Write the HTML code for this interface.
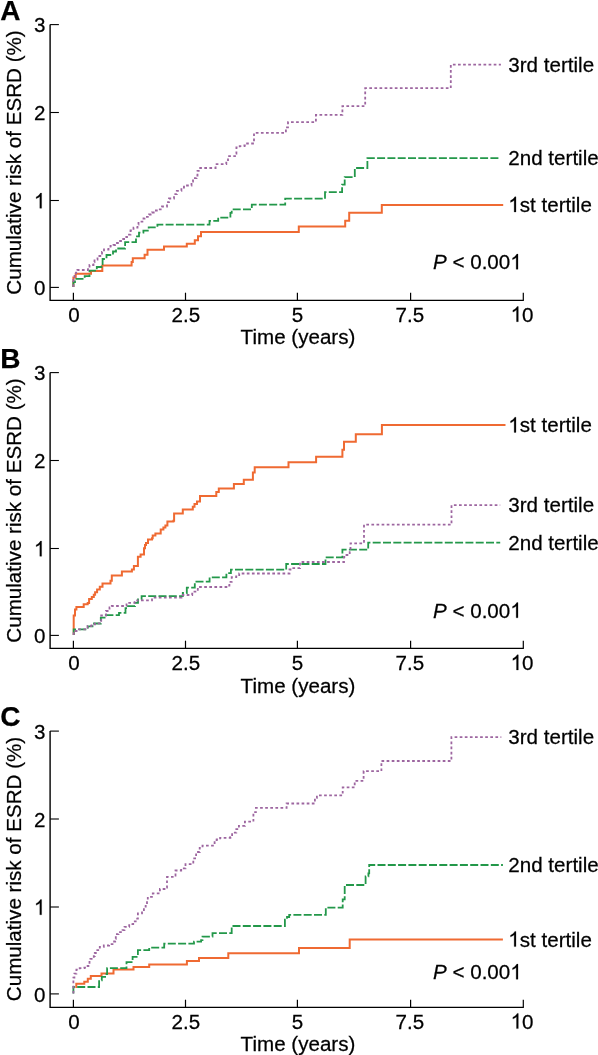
<!DOCTYPE html>
<html><head><meta charset="utf-8"><style>
html,body{margin:0;padding:0;background:#fff;width:598px;height:1055px;overflow:hidden}
svg{display:block;will-change:transform;font-family:"Liberation Sans",sans-serif}
text{stroke:#000;stroke-width:0.25px}
</style></head><body>
<svg width="598" height="1055" viewBox="0 0 598 1055" fill="#000">
<text x="0.3" y="19.5" font-size="28" font-weight="bold">A</text>
<path d="M50.1 24.6 V300.4 H523.8" fill="none" stroke="#000" stroke-width="1.4"/>
<path d="M50.1 287.4 H58.9" stroke="#000" stroke-width="1.1"/>
<g transform="translate(0 295.20) scale(1 1.025)"><text x="33.94" y="0" font-size="20.6" xml:space="preserve">0</text></g>
<path d="M50.1 200.5 H58.9" stroke="#000" stroke-width="1.1"/>
<g transform="translate(0 208.30) scale(1 1.025)"><path transform="translate(33.94 0.00) scale(0.01006 -0.01006)" d="M763 0L583 0L583 1147Q518 1085 465 1054Q412 1023 359 992Q306 961 222 930L222 1104Q373 1175 429.5 1225.5Q486 1276 542.5 1326.5Q599 1377 646 1472L763 1472Z" stroke="#000" stroke-width="0.25" vector-effect="non-scaling-stroke"/></g>
<path d="M50.1 112.5 H58.9" stroke="#000" stroke-width="1.1"/>
<g transform="translate(0 120.40) scale(1 1.025)"><text x="33.94" y="0" font-size="20.6" xml:space="preserve">2</text></g>
<path d="M50.1 24.6 H58.9" stroke="#000" stroke-width="1.1"/>
<g transform="translate(0 32.10) scale(1 1.025)"><text x="33.94" y="0" font-size="20.6" xml:space="preserve">3</text></g>
<path d="M73.4 300.4 V292.7" stroke="#000" stroke-width="1.2"/>
<g transform="translate(0 321.70) scale(1 1.025)"><text x="68.17" y="0" font-size="20.6" xml:space="preserve">0</text></g>
<path d="M185.5 300.4 V292.7" stroke="#000" stroke-width="1.2"/>
<g transform="translate(0 321.70) scale(1 1.025)"><text x="171.48" y="0" font-size="20.6" xml:space="preserve">2.5</text></g>
<path d="M297.4 300.4 V292.7" stroke="#000" stroke-width="1.2"/>
<g transform="translate(0 321.70) scale(1 1.025)"><text x="291.87" y="0" font-size="20.6" xml:space="preserve">5</text></g>
<path d="M410.6 300.4 V292.7" stroke="#000" stroke-width="1.2"/>
<g transform="translate(0 321.70) scale(1 1.025)"><text x="395.48" y="0" font-size="20.6" xml:space="preserve">7.5</text></g>
<path d="M523.3 300.4 V292.7" stroke="#000" stroke-width="1.2"/>
<g transform="translate(0 321.70) scale(1 1.025)"><path transform="translate(510.64 0.00) scale(0.01006 -0.01006)" d="M763 0L583 0L583 1147Q518 1085 465 1054Q412 1023 359 992Q306 961 222 930L222 1104Q373 1175 429.5 1225.5Q486 1276 542.5 1326.5Q599 1377 646 1472L763 1472Z" stroke="#000" stroke-width="0.25" vector-effect="non-scaling-stroke"/><text x="522.10" y="0" font-size="20.6" xml:space="preserve">0</text></g>
<g transform="translate(0 343.90) scale(1 1.025)"><text x="240.60" y="0" font-size="20.6" xml:space="preserve">Time (years)</text></g>
<g transform="translate(21.1 162.5) rotate(-90)"><text x="0" y="0" text-anchor="middle" font-size="20.6">Cumulative risk of ESRD (%)</text></g>
<path d="M73.4 287 V277.4 H75.7 V273.7 H91 V271 H102.3 V265.6 H131.6 V262 H132.8 V258.2 H144.6 V254.7 H147.5 V249.8 H164 V246.6 H186.8 V243.7 H194.8 V240.3 H198 V236.3 H201 V232 H298.8 V226.6 H345.2 V220.7 H349.2 V212.7 H381.8 V205 H503.2" fill="none" stroke="#ef6a32" stroke-width="2.0"/>
<path d="M73.4 287 V282 H75 V278.8 H84.7 V276.1 H89.5 V270.6 H96.8 V267 H101.4 V264 H102.6 V259 H106.5 V255 H113 V251.5 H116 V248.5 H125.1 V242.1 H136 V236.4 H139 V232.7 H143.4 V230.7 H148.7 V227.4 H157.4 V224.7 H209.5 V220.9 H218.2 V217.6 H230.4 V212.8 H231.7 V209.4 H251.8 V204.7 H285.2 V198.7 H325 V192.2 H342.1 V184.6 H344.7 V177.1 H354.8 V168 H367.4 V158.1 H500.7" fill="none" stroke="#23984a" stroke-width="1.8" stroke-dasharray="8 2.3"/>
<path d="M73.4 287 V280 H74.5 V276 H76 V272.7 H77.4 V270 H88 V268 H89.5 V265 H93.5 V262 H94.5 V259.5 H97.5 V256 H100.3 V253.5 H102 V252 H104 V249.5 H108.5 V248 H110.5 V246 H113.5 V245 H115 V243 H119 V241 H122 V239 H125 V237 H127 V234.6 H130.5 V230.5 H133.5 V227.6 H137.5 V224.5 H138.5 V221.6 H143.5 V218.5 H144.5 V216.8 H149 V214.5 H152 V212.5 H155 V210.5 H158 V209.3 H162 V206.5 H167 V202.2 H169 V198.5 H174 V194.2 H176.8 V190.8 H181.4 V187.5 H184 V185.5 H191.5 V181.5 H193 V178.1 H196.5 V175.5 H197.5 V170.8 H200.2 V168 H215.6 V164.1 H226.3 V160.2 H228 V156.2 H235 V153.5 H236.4 V147.5 H239.7 V146.2 H244.4 V145.5 H247.1 V143.5 H254 V132.8 H285.9 V127.4 H288 V122.1 H315.9 V114.9 H342.4 V106.1 H365.2 V88.2 H450.8 V64.7 H500.9" fill="none" stroke="#9d66a0" stroke-width="1.8" stroke-dasharray="2.7 2.4"/>
<g transform="translate(0 71.90) scale(1 1.025)"><text x="508.30" y="0" font-size="20.6" xml:space="preserve">3rd tertile</text></g>
<g transform="translate(0 165.40) scale(1 1.025)"><text x="508.30" y="0" font-size="20.6" xml:space="preserve">2nd tertile</text></g>
<g transform="translate(0 212.00) scale(1 1.025)"><path transform="translate(508.30 0.00) scale(0.01006 -0.01006)" d="M763 0L583 0L583 1147Q518 1085 465 1054Q412 1023 359 992Q306 961 222 930L222 1104Q373 1175 429.5 1225.5Q486 1276 542.5 1326.5Q599 1377 646 1472L763 1472Z" stroke="#000" stroke-width="0.25" vector-effect="non-scaling-stroke"/><text x="519.76" y="0" font-size="20.6" xml:space="preserve">st tertile</text></g>
<g transform="translate(0 269.30) scale(1 1.025)"><path transform="translate(510.31 0.00) scale(0.01006 -0.01006)" d="M763 0L583 0L583 1147Q518 1085 465 1054Q412 1023 359 992Q306 961 222 930L222 1104Q373 1175 429.5 1225.5Q486 1276 542.5 1326.5Q599 1377 646 1472L763 1472Z" stroke="#000" stroke-width="0.25" vector-effect="non-scaling-stroke"/><text x="433.00" y="0" font-size="20.6" font-style="italic" xml:space="preserve">P</text><text x="446.74" y="0" font-size="20.6" xml:space="preserve"> &lt; 0.00</text></g>
<text x="0.3" y="367.5" font-size="28" font-weight="bold">B</text>
<path d="M50.1 372.6 V648.4 H523.8" fill="none" stroke="#000" stroke-width="1.4"/>
<path d="M50.1 635.4 H58.9" stroke="#000" stroke-width="1.1"/>
<g transform="translate(0 643.20) scale(1 1.025)"><text x="33.94" y="0" font-size="20.6" xml:space="preserve">0</text></g>
<path d="M50.1 548.5 H58.9" stroke="#000" stroke-width="1.1"/>
<g transform="translate(0 556.30) scale(1 1.025)"><path transform="translate(33.94 0.00) scale(0.01006 -0.01006)" d="M763 0L583 0L583 1147Q518 1085 465 1054Q412 1023 359 992Q306 961 222 930L222 1104Q373 1175 429.5 1225.5Q486 1276 542.5 1326.5Q599 1377 646 1472L763 1472Z" stroke="#000" stroke-width="0.25" vector-effect="non-scaling-stroke"/></g>
<path d="M50.1 460.5 H58.9" stroke="#000" stroke-width="1.1"/>
<g transform="translate(0 468.40) scale(1 1.025)"><text x="33.94" y="0" font-size="20.6" xml:space="preserve">2</text></g>
<path d="M50.1 372.6 H58.9" stroke="#000" stroke-width="1.1"/>
<g transform="translate(0 380.10) scale(1 1.025)"><text x="33.94" y="0" font-size="20.6" xml:space="preserve">3</text></g>
<path d="M73.4 648.4 V640.7" stroke="#000" stroke-width="1.2"/>
<g transform="translate(0 670.00) scale(1 1.025)"><text x="68.17" y="0" font-size="20.6" xml:space="preserve">0</text></g>
<path d="M185.5 648.4 V640.7" stroke="#000" stroke-width="1.2"/>
<g transform="translate(0 670.00) scale(1 1.025)"><text x="171.48" y="0" font-size="20.6" xml:space="preserve">2.5</text></g>
<path d="M297.4 648.4 V640.7" stroke="#000" stroke-width="1.2"/>
<g transform="translate(0 670.00) scale(1 1.025)"><text x="291.87" y="0" font-size="20.6" xml:space="preserve">5</text></g>
<path d="M410.6 648.4 V640.7" stroke="#000" stroke-width="1.2"/>
<g transform="translate(0 670.00) scale(1 1.025)"><text x="395.48" y="0" font-size="20.6" xml:space="preserve">7.5</text></g>
<path d="M523.3 648.4 V640.7" stroke="#000" stroke-width="1.2"/>
<g transform="translate(0 670.00) scale(1 1.025)"><path transform="translate(510.64 0.00) scale(0.01006 -0.01006)" d="M763 0L583 0L583 1147Q518 1085 465 1054Q412 1023 359 992Q306 961 222 930L222 1104Q373 1175 429.5 1225.5Q486 1276 542.5 1326.5Q599 1377 646 1472L763 1472Z" stroke="#000" stroke-width="0.25" vector-effect="non-scaling-stroke"/><text x="522.10" y="0" font-size="20.6" xml:space="preserve">0</text></g>
<g transform="translate(0 692.50) scale(1 1.025)"><text x="240.60" y="0" font-size="20.6" xml:space="preserve">Time (years)</text></g>
<g transform="translate(21.1 510.5) rotate(-90)"><text x="0" y="0" text-anchor="middle" font-size="20.6">Cumulative risk of ESRD (%)</text></g>
<path d="M73.7 635 V615.6 H75 V609.6 H76.4 V606.9 H83.7 V604.2 H87.7 V602.9 H89.1 V598.9 H91.8 V596.9 H93.8 V594.8 H95.1 V592.2 H97.1 V589.5 H99.8 V586.8 H102.5 V583.5 H110.5 V580.8 H111.8 V575.5 H121.9 V571.4 H131.9 V569.4 H133.9 V566.1 H137.9 V556.7 H140.6 V554.5 H144 V548.2 H145 V545 H146 V542.9 H148 V539.5 H152 V538.2 H152.7 V535.5 H155.4 V533.5 H160.7 V529.5 H163.4 V527.5 H165.4 V525.5 H167.4 V521.5 H173.4 V520.8 H174.1 V513.4 H182.8 V509.4 H192.8 V506.8 H194.5 V504.1 H197 V501.4 H200 V496.1 H216.3 V492 H218.8 V488.5 H233.9 V484 H243.8 V479.7 H252.9 V472.6 H254.7 V467.3 H288.5 V462.2 H316.1 V456.7 H342.4 V449.8 H344 V441.8 H355.8 V434.2 H381.9 V424.9 H505.5" fill="none" stroke="#ef6a32" stroke-width="2.0"/>
<path d="M73.7 635 V629.3 H87.8 V626.3 H92.5 V623.5 H100.8 V617.6 H105.8 V615.2 H119 V612.9 H125.5 V608.2 H128 V606.2 H135 V602.9 H138 V599.5 H141.6 V596.2 H182.8 V593 H186.8 V587.7 H194.8 V581.7 H209.6 V577.4 H226.4 V573.2 H230.9 V569.7 H286.2 V564 H325.5 V557.4 H342.4 V549.7 H368.2 V542.6 H500.2" fill="none" stroke="#23984a" stroke-width="1.8" stroke-dasharray="8 2.3"/>
<path d="M73.7 635 V631 H78.9 V629.3 H87.6 V626 H91.5 V624.3 H95 V623.3 H101.2 V615.5 H106 V611 H109.5 V607.5 H111.8 V606 H123.9 V605.6 H126.5 V602.9 H134.6 V602.2 H137.2 V600.3 H152 V597.7 H181.5 V597 H182.8 V595 H192.2 V593.7 H193.5 V591.7 H197.8 V587 H226.4 V585.6 H229.4 V581.8 H231.7 V577.2 H236.2 V576.5 H239.2 V573.5 H289.5 V569.5 H291.5 V568.1 H300 V562 H344 V557 H345.5 V555 H349.7 V552.1 H350.5 V543.3 H364 V524.7 H451.5 V505.2 H500.2" fill="none" stroke="#9d66a0" stroke-width="1.8" stroke-dasharray="2.7 2.4"/>
<g transform="translate(0 432.40) scale(1 1.025)"><path transform="translate(508.30 0.00) scale(0.01006 -0.01006)" d="M763 0L583 0L583 1147Q518 1085 465 1054Q412 1023 359 992Q306 961 222 930L222 1104Q373 1175 429.5 1225.5Q486 1276 542.5 1326.5Q599 1377 646 1472L763 1472Z" stroke="#000" stroke-width="0.25" vector-effect="non-scaling-stroke"/><text x="519.76" y="0" font-size="20.6" xml:space="preserve">st tertile</text></g>
<g transform="translate(0 512.40) scale(1 1.025)"><text x="508.30" y="0" font-size="20.6" xml:space="preserve">3rd tertile</text></g>
<g transform="translate(0 549.80) scale(1 1.025)"><text x="508.30" y="0" font-size="20.6" xml:space="preserve">2nd tertile</text></g>
<g transform="translate(0 617.80) scale(1 1.025)"><path transform="translate(510.31 0.00) scale(0.01006 -0.01006)" d="M763 0L583 0L583 1147Q518 1085 465 1054Q412 1023 359 992Q306 961 222 930L222 1104Q373 1175 429.5 1225.5Q486 1276 542.5 1326.5Q599 1377 646 1472L763 1472Z" stroke="#000" stroke-width="0.25" vector-effect="non-scaling-stroke"/><text x="433.00" y="0" font-size="20.6" font-style="italic" xml:space="preserve">P</text><text x="446.74" y="0" font-size="20.6" xml:space="preserve"> &lt; 0.00</text></g>
<text x="0.3" y="726.0" font-size="28" font-weight="bold">C</text>
<path d="M50.1 731.1 V1007.4 H523.8" fill="none" stroke="#000" stroke-width="1.4"/>
<path d="M50.1 993.9 H58.9" stroke="#000" stroke-width="1.1"/>
<g transform="translate(0 1001.70) scale(1 1.025)"><text x="33.94" y="0" font-size="20.6" xml:space="preserve">0</text></g>
<path d="M50.1 907.0 H58.9" stroke="#000" stroke-width="1.1"/>
<g transform="translate(0 914.80) scale(1 1.025)"><path transform="translate(33.94 0.00) scale(0.01006 -0.01006)" d="M763 0L583 0L583 1147Q518 1085 465 1054Q412 1023 359 992Q306 961 222 930L222 1104Q373 1175 429.5 1225.5Q486 1276 542.5 1326.5Q599 1377 646 1472L763 1472Z" stroke="#000" stroke-width="0.25" vector-effect="non-scaling-stroke"/></g>
<path d="M50.1 819.0 H58.9" stroke="#000" stroke-width="1.1"/>
<g transform="translate(0 826.90) scale(1 1.025)"><text x="33.94" y="0" font-size="20.6" xml:space="preserve">2</text></g>
<path d="M50.1 731.1 H58.9" stroke="#000" stroke-width="1.1"/>
<g transform="translate(0 738.60) scale(1 1.025)"><text x="33.94" y="0" font-size="20.6" xml:space="preserve">3</text></g>
<path d="M73.4 1007.4 V999.7" stroke="#000" stroke-width="1.2"/>
<g transform="translate(0 1028.60) scale(1 1.025)"><text x="68.17" y="0" font-size="20.6" xml:space="preserve">0</text></g>
<path d="M185.5 1007.4 V999.7" stroke="#000" stroke-width="1.2"/>
<g transform="translate(0 1028.60) scale(1 1.025)"><text x="171.48" y="0" font-size="20.6" xml:space="preserve">2.5</text></g>
<path d="M297.4 1007.4 V999.7" stroke="#000" stroke-width="1.2"/>
<g transform="translate(0 1028.60) scale(1 1.025)"><text x="291.87" y="0" font-size="20.6" xml:space="preserve">5</text></g>
<path d="M410.6 1007.4 V999.7" stroke="#000" stroke-width="1.2"/>
<g transform="translate(0 1028.60) scale(1 1.025)"><text x="395.48" y="0" font-size="20.6" xml:space="preserve">7.5</text></g>
<path d="M523.3 1007.4 V999.7" stroke="#000" stroke-width="1.2"/>
<g transform="translate(0 1028.60) scale(1 1.025)"><path transform="translate(510.64 0.00) scale(0.01006 -0.01006)" d="M763 0L583 0L583 1147Q518 1085 465 1054Q412 1023 359 992Q306 961 222 930L222 1104Q373 1175 429.5 1225.5Q486 1276 542.5 1326.5Q599 1377 646 1472L763 1472Z" stroke="#000" stroke-width="0.25" vector-effect="non-scaling-stroke"/><text x="522.10" y="0" font-size="20.6" xml:space="preserve">0</text></g>
<g transform="translate(0 1051.00) scale(1 1.025)"><text x="240.60" y="0" font-size="20.6" xml:space="preserve">Time (years)</text></g>
<g transform="translate(21.1 869.0) rotate(-90)"><text x="0" y="0" text-anchor="middle" font-size="20.6">Cumulative risk of ESRD (%)</text></g>
<path d="M76.3 988 V983.8 H84.3 V981.8 H87.8 V978.8 H90.8 V975.9 H101.5 V973.6 H113.5 V969.6 H133.5 V967 H149.2 V964.4 H186.9 V961.1 H199 V957.9 H228.3 V953.2 H299 V948 H349.7 V939.6 H502.9" fill="none" stroke="#ef6a32" stroke-width="2.0"/>
<path d="M73.4 993.5 V987 H99.1 V980.3 H101.8 V976.9 H105.1 V974.2 H107.1 V968.2 H126.5 V962.2 H132.6 V956.9 H137.9 V950.2 H149.2 V947.7 H164.2 V943.7 H194 V941.6 H201.1 V940.2 H202.5 V936.6 H212.5 V933.1 H231.7 V926 H284.9 V919.7 H287 V917 H289.2 V914.8 H325.8 V907.6 H342.7 V899.3 H344.7 V885 H365.6 V876.4 H368.4 V873.4 H369.2 V865 H502.9" fill="none" stroke="#23984a" stroke-width="1.8" stroke-dasharray="8 2.3"/>
<path d="M73.4 993.5 V977.6 H74.4 V973.6 H76.4 V969.6 H79.7 V968.2 H84.4 V967.6 H86.5 V966 H88.4 V964.2 H89.5 V961 H90.4 V958.9 H93.8 V956.2 H94.8 V953 H95.8 V950.2 H99.8 V946.8 H103.8 V945.5 H109.1 V944.1 H112.5 V941.5 H115.2 V938.8 H115.8 V934.1 H118.5 V932.1 H122.5 V930.1 H124.5 V926.8 H129.2 V924.1 H133.2 V921.4 H137.2 V918.7 H137.9 V913.4 H142 V911.4 H143.9 V906.7 H145.7 V903.9 H147 V900 H147.8 V896.8 H152.8 V893.3 H159.9 V889 H166.3 V887.6 H167 V876.9 H172.7 V875.5 H175.5 V870.5 H181.2 V868.4 H185.5 V864.1 H193.3 V858.4 H196.1 V852 H199.7 V847.8 H202.5 V845.6 H214.6 V840 H216.7 V839.5 H220.1 V837.8 H230.4 V836.9 H232.1 V832.7 H236.3 V829.2 H238.9 V825.8 H244.9 V821.6 H253.4 V812.2 H255.9 V807.9 H286.6 V803.5 H314.9 V797.8 H316.9 V795.4 H342.7 V787.4 H354.7 V780.9 H363.6 V771.1 H381.4 V761 H451.4 V737.2 H501.3" fill="none" stroke="#9d66a0" stroke-width="1.8" stroke-dasharray="2.7 2.4"/>
<g transform="translate(0 744.30) scale(1 1.025)"><text x="508.30" y="0" font-size="20.6" xml:space="preserve">3rd tertile</text></g>
<g transform="translate(0 872.10) scale(1 1.025)"><text x="508.30" y="0" font-size="20.6" xml:space="preserve">2nd tertile</text></g>
<g transform="translate(0 946.60) scale(1 1.025)"><path transform="translate(508.30 0.00) scale(0.01006 -0.01006)" d="M763 0L583 0L583 1147Q518 1085 465 1054Q412 1023 359 992Q306 961 222 930L222 1104Q373 1175 429.5 1225.5Q486 1276 542.5 1326.5Q599 1377 646 1472L763 1472Z" stroke="#000" stroke-width="0.25" vector-effect="non-scaling-stroke"/><text x="519.76" y="0" font-size="20.6" xml:space="preserve">st tertile</text></g>
<g transform="translate(0 979.30) scale(1 1.025)"><path transform="translate(510.31 0.00) scale(0.01006 -0.01006)" d="M763 0L583 0L583 1147Q518 1085 465 1054Q412 1023 359 992Q306 961 222 930L222 1104Q373 1175 429.5 1225.5Q486 1276 542.5 1326.5Q599 1377 646 1472L763 1472Z" stroke="#000" stroke-width="0.25" vector-effect="non-scaling-stroke"/><text x="433.00" y="0" font-size="20.6" font-style="italic" xml:space="preserve">P</text><text x="446.74" y="0" font-size="20.6" xml:space="preserve"> &lt; 0.00</text></g>
</svg>
</body></html>
